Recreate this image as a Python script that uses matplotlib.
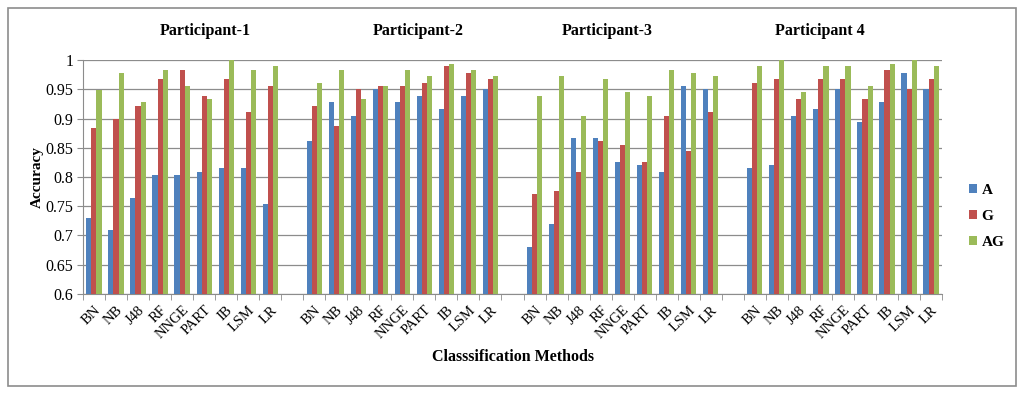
import matplotlib
matplotlib.use("Agg")
import matplotlib.pyplot as plt
import numpy as np
from matplotlib.patches import Rectangle

methods = ["BN", "NB", "J48", "RF", "NNGE", "PART", "IB", "LSM", "LR"]
participants = ["Participant-1", "Participant-2", "Participant-3", "Participant 4"]
series_names = ["A", "G", "AG"]
colors = ["#4F81BD", "#C0504D", "#9BBB59"]

# accuracy per participant, one list per series, in method order
p1_a = [0.730, 0.709, 0.764, 0.804, 0.804, 0.809, 0.816, 0.816, 0.754]
p1_g = [0.883, 0.900, 0.921, 0.967, 0.983, 0.939, 0.967, 0.911, 0.956]
p1_ag = [0.949, 0.978, 0.928, 0.983, 0.956, 0.933, 1.000, 0.983, 0.990]

p2_a = [0.861, 0.928, 0.904, 0.950, 0.928, 0.939, 0.916, 0.939, 0.950]
p2_g = [0.921, 0.888, 0.950, 0.956, 0.956, 0.961, 0.990, 0.978, 0.967]
p2_ag = [0.961, 0.983, 0.933, 0.956, 0.983, 0.973, 0.994, 0.983, 0.973]

p3_a = [0.680, 0.720, 0.866, 0.866, 0.826, 0.821, 0.809, 0.956, 0.950]
p3_g = [0.771, 0.776, 0.809, 0.861, 0.854, 0.826, 0.904, 0.844, 0.911]
p3_ag = [0.939, 0.973, 0.904, 0.967, 0.945, 0.939, 0.983, 0.978, 0.973]

p4_a = [0.816, 0.821, 0.904, 0.916, 0.950, 0.894, 0.928, 0.978, 0.950]
p4_g = [0.961, 0.967, 0.933, 0.967, 0.967, 0.933, 0.983, 0.950, 0.967]
p4_ag = [0.990, 1.000, 0.945, 0.990, 0.990, 0.956, 0.994, 1.000, 0.990]

groups = [(p1_a, p1_g, p1_ag), (p2_a, p2_g, p2_ag),
          (p3_a, p3_g, p3_ag), (p4_a, p4_g, p4_ag)]

# title positions (figure fraction), they are not centred on the groups
title_x = [0.200, 0.408, 0.593, 0.801]

plt.rcParams["font.family"] = ["Liberation Serif", "DejaVu Serif"]

fig = plt.figure(figsize=(10.24, 3.95), dpi=100)
ax = fig.add_axes([0.081, 0.256, 0.839, 0.592])

# one empty category slot between participants
n_slots = len(groups) * len(methods) + len(groups) - 1
bw = 0.23
labels = []
centers = []
for gi, grp in enumerate(groups):
    start = gi * (len(methods) + 1)
    x = np.arange(start, start + len(methods))
    for si, vals in enumerate(grp):
        ax.bar(x + (si - 1) * bw, np.array(vals) - 0.6, bw, bottom=0.6,
               color=colors[si], label=series_names[si] if gi == 0 else None,
               zorder=3)
    centers.extend(x)
    labels.extend(methods)
    fig.text(title_x[gi], 0.921, participants[gi], ha="center", va="center",
             fontsize=11.5, fontweight="bold")

ax.set_xlim(-0.5, n_slots - 0.5)
ax.set_ylim(0.6, 1.0)
ax.set_yticks(np.arange(0.6, 1.001, 0.05))
ax.set_yticklabels(["0.6", "0.65", "0.7", "0.75", "0.8", "0.85", "0.9", "0.95", "1"])
ax.yaxis.grid(True, color="#8c8c8c", linewidth=0.9, zorder=0)
ax.set_axisbelow(True)

ax.set_xticks(centers)
ax.set_xticklabels(labels, rotation=45, ha="right", va="top",
                   rotation_mode="anchor", fontsize=10.5)
ax.set_xticks(np.arange(-0.5, n_slots, 1.0), minor=True)
ax.tick_params(axis="x", which="major", length=0, pad=7)
ax.tick_params(axis="x", which="minor", length=4, color="#8c8c8c")
ax.tick_params(axis="y", length=4, color="#8c8c8c", labelsize=11.5, pad=3)

for side in ["top", "right"]:
    ax.spines[side].set_visible(False)
for side in ["left", "bottom"]:
    ax.spines[side].set_color("#8c8c8c")

ax.set_ylabel("Accuracy", fontsize=11, fontweight="bold", labelpad=1)
fig.text(0.501, 0.096, "Classsification Methods", ha="center", va="center",
         fontsize=11.5, fontweight="bold")

fig.legend(loc="center left", bbox_to_anchor=(0.933, 0.452), frameon=False,
           prop={"weight": "bold", "size": 11}, handlelength=0.5,
           handleheight=0.5, handletextpad=0.3, labelspacing=0.85)

fig.patches.append(Rectangle((0.008, 0.022), 0.984, 0.958, transform=fig.transFigure,
                             fill=False, edgecolor="#8c8c8c", linewidth=1.2))

fig.savefig("out.png", dpi=100)
